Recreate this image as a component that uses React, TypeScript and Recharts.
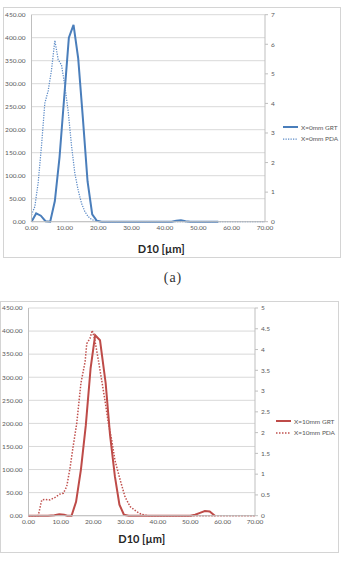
import { LineChart, Line, XAxis, YAxis, CartesianGrid, Label } from "recharts";

const FONT = "Lato, 'Liberation Sans', sans-serif";

// shared axis ticks
const X_TICKS = [0, 10, 20, 30, 40, 50, 60, 70];
const LEFT_TICKS = [0, 50, 100, 150, 200, 250, 300, 350, 400, 450];
const RIGHT_TICKS_A = [0, 1, 2, 3, 4, 5, 6, 7];
const RIGHT_TICKS_B = [0, 0.5, 1, 1.5, 2, 2.5, 3, 3.5, 4, 4.5, 5];

// X=0mm, GRT (left axis)
const GRT_A_D = [0, 1.4, 2.8, 4.2, 5.6, 7.0, 8.4, 9.8, 11.2, 12.6, 14.0, 15.4, 16.8, 18.2, 19.6, 21.0, 42.0, 43.4, 44.8, 46.2, 47.6, 56.0];
const GRT_A_N = [0, 18, 13, 1, 0, 45, 140, 270, 400, 428, 355, 225, 88, 16, 2, 0, 0, 2, 3, 1, 0, 0];

// X=0mm, PDA (right axis)
const PDA_A_D = [0, 1, 2, 3, 4, 5, 6, 7, 8, 9, 10, 11, 12, 13, 14, 15, 16, 17, 18, 19, 20, 21, 70];
const PDA_A_N = [0.23, 0.51, 1.32, 2.57, 4.01, 4.43, 5.13, 6.13, 5.48, 5.3, 4.59, 3.73, 2.57, 1.63, 1.06, 0.62, 0.34, 0.17, 0.08, 0.03, 0.02, 0, 0];

// X=10mm, GRT (left axis)
const GRT_B_D = [0, 6, 8, 9.5, 11, 12, 13.3, 14.7, 16.2, 17.7, 19.2, 20.6, 22.1, 23.85, 25.2, 26.7, 28.1, 29.5, 31, 50, 51.5, 53, 54.5, 56, 57.6];
const GRT_B_N = [0, 0, 1, 3, 2, 0, 0, 30, 100, 195, 320, 391, 380, 287, 175, 85, 24, 2, 0, 0, 2, 6, 10, 9, 0];

// X=10mm, PDA (right axis)
const PDA_B_D = [0, 3.0, 4.1, 5.1, 6.6, 8.2, 9.7, 10.75, 11.8, 12.8, 13.8, 14.9, 16.2, 17.5, 18.0, 19.0, 19.7, 20.5, 21.6, 22.6, 23.6, 24.7, 25.7, 26.7, 28.3, 29.8, 31.4, 33.4, 35, 37, 70];
const PDA_B_N = [0, 0, 0.38, 0.39, 0.38, 0.44, 0.52, 0.54, 0.7, 1.13, 1.67, 2.22, 3.19, 3.71, 4.14, 4.27, 4.46, 4.23, 3.74, 3.27, 2.79, 2.22, 1.83, 1.34, 0.87, 0.46, 0.22, 0.1, 0.03, 0, 0];

const toPoints = (d: number[], n: number[]) => d.map((x, i) => ({ d: x, n: n[i] }));

type SeriesDef = {
  name: string;
  points: { d: number; n: number }[];
  axis: "l" | "r";
  color: string;
  width: number;
  dash?: string;
};

type PanelProps = {
  left: number;
  top: number;
  width: number;
  height: number;
  plotLeft: number;
  plotRight: number;
  plotTop: number;
  plotBottom: number;
  rightTicks: number[];
  rightMax: number;
  titleDx: number;
  titleOffset: number;
  legendX: number;
  legendY: number;
  legendLine: number;
  series: SeriesDef[];
};

const tickStyle = { fontSize: 6.5, fill: "#595959", fontFamily: FONT };

function Panel(p: PanelProps) {
  return (
    <div style={{ position: "absolute", left: p.left, top: p.top, width: p.width, height: p.height }}>
      <div
        style={{
          position: "absolute",
          inset: 0,
          border: "1px solid #d4d4d4",
          boxSizing: "border-box",
        }}
      />
      <div style={{ position: "absolute", left: 0, top: 0 }}>
        <LineChart
          width={p.width}
          height={p.height}
          margin={{ top: p.plotTop, right: 0, bottom: 0, left: 0 }}
        >
          <CartesianGrid yAxisId="l" vertical={false} stroke="#d9d9d9" />
          <XAxis
            type="number"
            dataKey="d"
            domain={[0, 70]}
            ticks={X_TICKS}
            tickFormatter={(v: number) => v.toFixed(2)}
            height={p.height - p.plotBottom}
            axisLine={{ stroke: "#bfbfbf" }}
            tickLine={false}
            tickSize={0}
            tickMargin={4}
            tick={tickStyle}
            interval={0}
          >
            <Label
              value="D10 [µm]"
              position="insideBottom"
              offset={p.titleOffset}
              dx={p.titleDx}
              style={{ fontSize: 11, fontWeight: 700, fill: "#262626", fontFamily: FONT }}
            />
          </XAxis>
          <YAxis
            yAxisId="l"
            orientation="left"
            width={p.plotLeft}
            domain={[0, 450]}
            ticks={LEFT_TICKS}
            tickFormatter={(v: number) => v.toFixed(2)}
            axisLine={{ stroke: "#bfbfbf" }}
            tickLine={false}
            tickSize={0}
            tickMargin={6}
            tick={tickStyle}
            interval={0}
          />
          <YAxis
            yAxisId="r"
            orientation="right"
            width={p.width - p.plotRight}
            domain={[0, p.rightMax]}
            ticks={p.rightTicks}
            axisLine={{ stroke: "#bfbfbf" }}
            tickLine={{ stroke: "#bfbfbf" }}
            tickSize={3}
            tickMargin={3}
            tick={tickStyle}
            interval={0}
          />
          {p.series.map((s) => (
            <Line
              key={s.name}
              name={s.name}
              data={s.points}
              dataKey="n"
              yAxisId={s.axis}
              type="linear"
              stroke={s.color}
              strokeWidth={s.width}
              strokeDasharray={s.dash}
              dot={false}
              activeDot={false}
              isAnimationActive={false}
            />
          ))}
        </LineChart>
      </div>
      {p.series.map((s, i) => (
        <div
          key={s.name}
          style={{
            position: "absolute",
            left: p.legendX,
            top: p.legendY + i * 11.6 - 5,
            height: 10,
            display: "flex",
            alignItems: "center",
            fontFamily: FONT,
            fontSize: 6.5,
            color: "#595959",
            whiteSpace: "nowrap",
          }}
        >
          <svg width={p.legendLine} height={10} style={{ marginRight: 3 }}>
            <line
              x1={0}
              x2={p.legendLine}
              y1={5}
              y2={5}
              stroke={s.color}
              strokeWidth={s.width}
              strokeDasharray={s.dash}
            />
          </svg>
          {s.name}
        </div>
      ))}
    </div>
  );
}

export default function App() {
  return (
    <div
      style={{
        position: "fixed",
        left: 0,
        top: 0,
        width: 346,
        height: 562,
        background: "#fff",
        overflow: "hidden",
      }}
    >
      <Panel
        left={3}
        top={7}
        width={338}
        height={251}
        plotLeft={28.5}
        plotRight={262}
        plotTop={7.7}
        plotBottom={214.7}
        rightTicks={RIGHT_TICKS_A}
        rightMax={7}
        titleDx={13}
        titleOffset={5}
        legendX={280}
        legendY={120}
        legendLine={15}
        series={[
          { name: "X=0mm GRT", points: toPoints(GRT_A_D, GRT_A_N), axis: "l", color: "#4a7ebb", width: 2 },
          { name: "X=0mm PDA", points: toPoints(PDA_A_D, PDA_A_N), axis: "r", color: "#5b8ac6", width: 1.25, dash: "1.25 1.25" },
        ]}
      />
      <div
        style={{
          position: "absolute",
          left: 0,
          width: 346,
          top: 270,
          lineHeight: "15px",
          textAlign: "center",
          fontFamily: "'Liberation Serif', serif",
          fontSize: 14,
          letterSpacing: 1,
          color: "#333",
        }}
      >
        (a)
      </div>
      <Panel
        left={0}
        top={301}
        width={339}
        height={252}
        plotLeft={28.5}
        plotRight={255}
        plotTop={7}
        plotBottom={214.7}
        rightTicks={RIGHT_TICKS_B}
        rightMax={5}
        titleDx={0}
        titleOffset={10}
        legendX={276}
        legendY={120}
        legendLine={15}
        series={[
          { name: "X=10mm GRT", points: toPoints(GRT_B_D, GRT_B_N), axis: "l", color: "#be4b48", width: 2 },
          { name: "X=10mm PDA", points: toPoints(PDA_B_D, PDA_B_N), axis: "r", color: "#c0504d", width: 1.5, dash: "1.5 1.5" },
        ]}
      />
    </div>
  );
}
